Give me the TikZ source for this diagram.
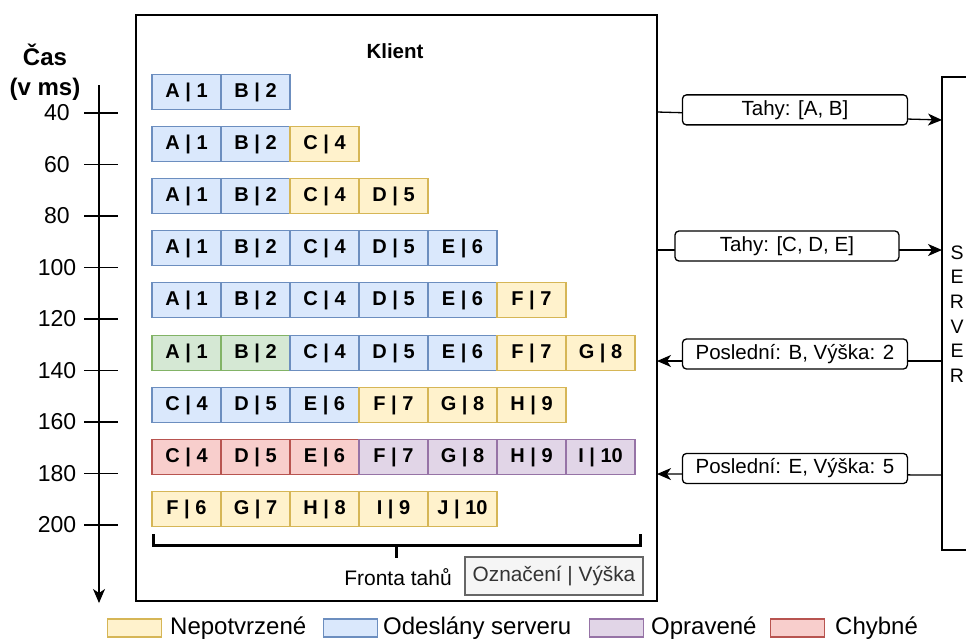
\documentclass[tikz,border=0pt]{standalone}
\usepackage{fontspec}
\setmainfont{Liberation Sans}
\usetikzlibrary{arrows.meta}

\definecolor{yelF}{HTML}{FFF2CC}\definecolor{yelD}{HTML}{D6B656}
\definecolor{bluF}{HTML}{DAE8FC}\definecolor{bluD}{HTML}{6C8EBF}
\definecolor{grnF}{HTML}{D5E8D4}\definecolor{grnD}{HTML}{82B366}
\definecolor{purF}{HTML}{E1D5E7}\definecolor{purD}{HTML}{9673A6}
\definecolor{redF}{HTML}{F8CECC}\definecolor{redD}{HTML}{B85450}
\definecolor{gryF}{HTML}{F5F5F5}\definecolor{gryD}{HTML}{666666}
\definecolor{gryT}{HTML}{333333}

% one row of the move queue: #1 row id, #2 vertical centre, #3 list of label/style
\newcommand\queuerow[3]{%
  \foreach \t/\s [count=\i from 0] in {#3} {%
    \node[cell,\s] (r#1c\i) at ({152+69*\i},#2) {\t};}}

\begin{document}
\begin{tikzpicture}[x=1pt,y=-1pt,
  cell/.style={draw, anchor=west, minimum width=69pt, minimum height=35pt,
    inner sep=0pt, outer sep=0pt, line width=1.3pt,
    font=\fontsize{20}{23}\selectfont\bfseries},
  pend/.style={fill=yelF, draw=yelD},
  sent/.style={fill=bluF, draw=bluD},
  conf/.style={fill=grnF, draw=grnD},
  fixd/.style={fill=purF, draw=purD},
  bad/.style={fill=redF, draw=redD},
  frame/.style={draw, line width=1.3pt, inner sep=0pt, outer sep=0pt, anchor=north west},
  msg/.style={draw, fill=white, rounded corners=4pt, line width=1.3pt,
    minimum width=225pt, minimum height=30pt, inner sep=0pt,
    font=\fontsize{20.5}{23}\selectfont},
  conn/.style={line width=1.3pt, -{Stealth[length=14pt,width=12pt,inset=4pt]}},
  plain/.style={font=\fontsize{21}{24}\selectfont},
  legbox/.style={draw, line width=1.3pt, minimum width=54pt, minimum height=18pt,
    inner sep=0pt, anchor=west},
  legtext/.style={anchor=west, inner sep=0pt, font=\fontsize{24}{28}\selectfont}]

\useasboundingbox (0,0) rectangle (966,641);

% client and server frames
\node[frame, minimum width=521pt, minimum height=586pt] (client) at (136,15) {};
\node[frame, minimum width=80pt, minimum height=473pt] (server) at (942,77) {};
\node[font=\fontsize{19.5}{24.6}\selectfont, align=center, inner sep=0pt] (srvlabel) at (957,314)
  {S\\E\\R\\V\\E\\R};
\node[font=\fontsize{20.5}{23}\selectfont\bfseries] (klient) at (395,51) {Klient};

% time axis
\node[font=\fontsize{24}{30}\selectfont\bfseries, align=center, inner sep=0pt] (cas) at (45,72)
  {Čas\\(v ms)};
\coordinate (ax0) at (99,85);
\coordinate (ax1) at (99,603);
\draw[line width=1.3pt, -{Stealth[length=14pt,width=12pt,inset=4pt]}] (ax0) -- (ax1);
\foreach \v [count=\k from 0] in {40,60,80,100,120,140,160,180,200} {
  \coordinate (tl\k) at (84,{113+51.5*\k});
  \coordinate (tr\k) at (118,{113+51.5*\k});
  \draw[line width=1.3pt] (tl\k) -- (tr\k);
  \node[font=\fontsize{23}{26}\selectfont, inner sep=0pt] (tick\k) at (57,{113+51.5*\k}) {\v};
}

% move queue snapshots
\queuerow{1}{92}{A | 1/sent, B | 2/sent}
\queuerow{2}{144}{A | 1/sent, B | 2/sent, C | 4/pend}
\queuerow{3}{196}{A | 1/sent, B | 2/sent, C | 4/pend, D | 5/pend}
\queuerow{4}{248}{A | 1/sent, B | 2/sent, C | 4/sent, D | 5/sent, E | 6/sent}
\queuerow{5}{300}{A | 1/sent, B | 2/sent, C | 4/sent, D | 5/sent, E | 6/sent, F | 7/pend}
\queuerow{6}{353}{A | 1/conf, B | 2/conf, C | 4/sent, D | 5/sent, E | 6/sent, F | 7/pend, G | 8/pend}
\queuerow{7}{405}{C | 4/sent, D | 5/sent, E | 6/sent, F | 7/pend, G | 8/pend, H | 9/pend}
\queuerow{8}{457}{C | 4/bad, D | 5/bad, E | 6/bad, F | 7/fixd, G | 8/fixd, H | 9/fixd, I | 10/fixd}
\queuerow{9}{509}{F | 6/pend, G | 7/pend, H | 8/pend, I | 9/pend, J | 10/pend}

% queue bracket and its caption
\coordinate (bl) at (153,534);
\coordinate (br) at (640,534);
\coordinate (bm) at (396,545);
\coordinate (bt) at (396,558);
\draw[line width=3pt] (bl) -- (153,545) -- (640,545) -- (br);
\draw[line width=3pt] (bm) -- (bt);
\node[plain] (fronta) at (398,577) {Fronta tahů};
\node[draw=gryD, fill=gryF, text=gryT, line width=1.3pt, minimum width=178pt,
  minimum height=38pt, inner sep=0pt, font=\fontsize{20.8}{24}\selectfont] (key) at (554,576)
  {Označení | Výška};

% messages between client and server
\coordinate (c1) at (657,112); \coordinate (s1) at (942,120);
\coordinate (c2) at (657,250); \coordinate (s2) at (942,250);
\coordinate (c3) at (657,361); \coordinate (s3) at (942,361);
\coordinate (c4) at (657,474); \coordinate (s4) at (942,475);
\draw[conn] (c1) -- node[msg, pos=0.484, yshift=6pt] (m1) {Tahy: [A, B]} (s1);
\draw[conn] (c2) -- node[msg, pos=0.456, yshift=4pt, minimum width=224pt] (m2) {Tahy: [C, D, E]} (s2);
\draw[conn] (s3) -- node[msg, pos=0.516, yshift=7pt] (m3) {Poslední: B, Výška: 2} (c3);
\draw[conn] (s4) -- node[msg, pos=0.516, yshift=6pt] (m4) {Poslední: E, Výška: 5} (c4);

% legend
\node[legbox, fill=yelF, draw=yelD] (lg1) at (107,628) {};
\node[legtext] (lt1) at (170,628) {Nepotvrzené};
\node[legbox, fill=bluF, draw=bluD] (lg2) at (323,628) {};
\node[legtext] (lt2) at (383,628) {Odeslány serveru};
\node[legbox, fill=purF, draw=purD] (lg3) at (589,628) {};
\node[legtext] (lt3) at (651,628) {Opravené};
\node[legbox, fill=redF, draw=redD] (lg4) at (770,628) {};
\node[legtext] (lt4) at (835,628) {Chybné};
\end{tikzpicture}
\end{document}
